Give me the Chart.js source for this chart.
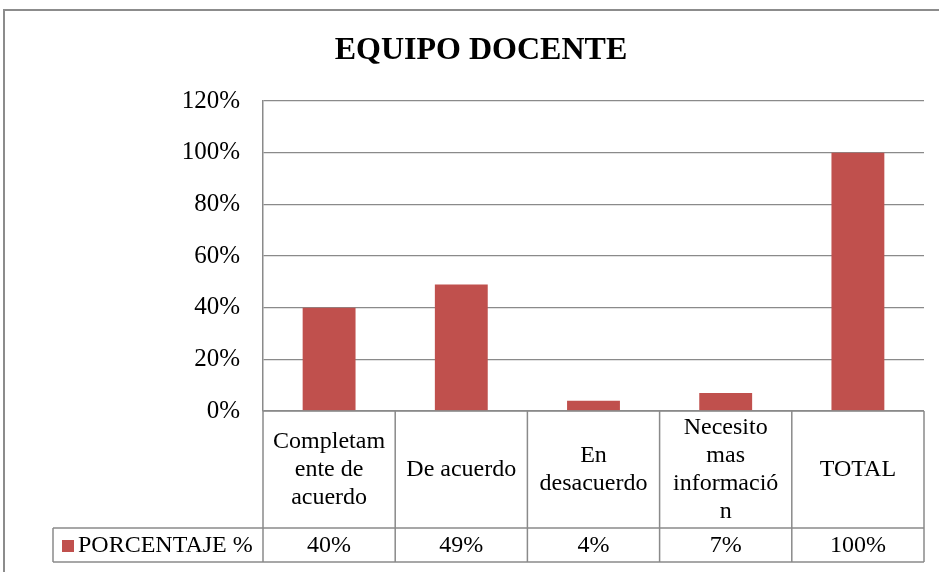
<!DOCTYPE html>
<html>
<head>
<meta charset="utf-8">
<title>EQUIPO DOCENTE</title>
<script src="https://cdn.jsdelivr.net/npm/chart.js@4"></script>
<style>
  html, body { margin: 0; padding: 0; background: #fff; }
  #wrap { width: 939px; height: 572px; position: relative; }
</style>
</head>
<body>
<div id="wrap"><canvas id="equipoChart" width="939" height="572"></canvas></div>
<script>
const title = "EQUIPO DOCENTE";
const seriesName = "PORCENTAJE %";
const categories = ["Completamente de acuerdo", "De acuerdo", "En desacuerdo", "Necesito mas información", "TOTAL"];
// how Excel wrapped the labels inside the table cells
const categoryLines = [
  ["Completam", "ente de", "acuerdo"],
  ["De acuerdo"],
  ["En", "desacuerdo"],
  ["Necesito", "mas", "informació", "n"],
  ["TOTAL"]
];
const percentages = [40, 49, 4, 7, 100];
const yTicks = [0, 20, 40, 60, 80, 100, 120];

const barColor = "#C0504D";
const lineColor = "#8a8a8a";
const serif = "'Liberation Serif', 'Times New Roman', serif";

// outer frame + title
const framePlugin = {
  id: "frame",
  beforeDraw(chart) {
    const ctx = chart.ctx;
    ctx.save();
    ctx.strokeStyle = "#8c8c8c";
    ctx.lineWidth = 2;
    ctx.strokeRect(4, 10, 960, 600);
    ctx.fillStyle = "#000";
    ctx.font = "bold 32px " + serif;
    ctx.textAlign = "center";
    ctx.textBaseline = "middle";
    ctx.fillText(title, 481, 51);
    ctx.restore();
  }
};

// data table under the plot, columns follow the x scale
const tablePlugin = {
  id: "dataTable",
  afterDraw(chart) {
    const ctx = chart.ctx;
    const xs = chart.scales.x;
    const area = chart.chartArea;
    const n = categories.length;
    const colW = (area.right - area.left) / n;
    const top = area.bottom;
    const mid = 528;
    const bottom = 562;
    const legendLeft = 53;

    ctx.save();
    ctx.strokeStyle = lineColor;
    ctx.lineWidth = 1.5;
    ctx.beginPath();
    ctx.moveTo(area.left, top); ctx.lineTo(area.right, top);
    ctx.moveTo(legendLeft, mid); ctx.lineTo(area.right, mid);
    ctx.moveTo(legendLeft, bottom); ctx.lineTo(area.right, bottom);
    ctx.moveTo(legendLeft, mid); ctx.lineTo(legendLeft, bottom);
    for (let i = 0; i <= n; i++) {
      const x = xs.getPixelForValue(0) - colW / 2 + i * colW;
      ctx.moveTo(x, top); ctx.lineTo(x, bottom);
    }
    ctx.stroke();

    ctx.fillStyle = "#000";
    ctx.font = "24px " + serif;
    ctx.textAlign = "center";
    ctx.textBaseline = "middle";
    const lh = 28;
    categoryLines.forEach((lines, i) => {
      const cx = xs.getPixelForValue(i);
      const cy = (top + mid) / 2 - ((lines.length - 1) * lh) / 2;
      lines.forEach((t, j) => ctx.fillText(t, cx, cy + j * lh));
    });
    percentages.forEach((v, i) => {
      ctx.fillText(v + "%", xs.getPixelForValue(i), (mid + bottom) / 2 + 1);
    });

    // legend key
    ctx.fillStyle = barColor;
    ctx.fillRect(62, 540, 12, 12);
    ctx.fillStyle = "#000";
    ctx.textAlign = "left";
    ctx.fillText(seriesName, 78, (mid + bottom) / 2 + 1);
    ctx.restore();
  }
};

new Chart(document.getElementById("equipoChart"), {
  type: "bar",
  data: {
    labels: categories,
    datasets: [{
      label: seriesName,
      data: percentages,
      backgroundColor: barColor,
      borderWidth: 0,
      categoryPercentage: 1,
      barPercentage: 0.4
    }]
  },
  options: {
    responsive: false,
    animation: false,
    layout: { padding: { left: 4, top: 101, right: 15, bottom: 161 } },
    plugins: {
      legend: { display: false },
      title: { display: false },
      tooltip: { enabled: false }
    },
    scales: {
      x: { display: false },
      y: {
        min: 0,
        max: 120,
        afterFit(scale) { scale.width = 259; },
        afterBuildTicks(scale) { scale.ticks = yTicks.map(v => ({ value: v })); },
        ticks: {
          color: "#000",
          padding: 23,
          font: { family: serif, size: 25 },
          callback: v => v + "%"
        },
        grid: { color: lineColor, lineWidth: 1.2, drawTicks: false },
        border: { display: true, color: lineColor, width: 1.5 }
      }
    }
  },
  plugins: [framePlugin, tablePlugin]
});
</script>
</body>
</html>
